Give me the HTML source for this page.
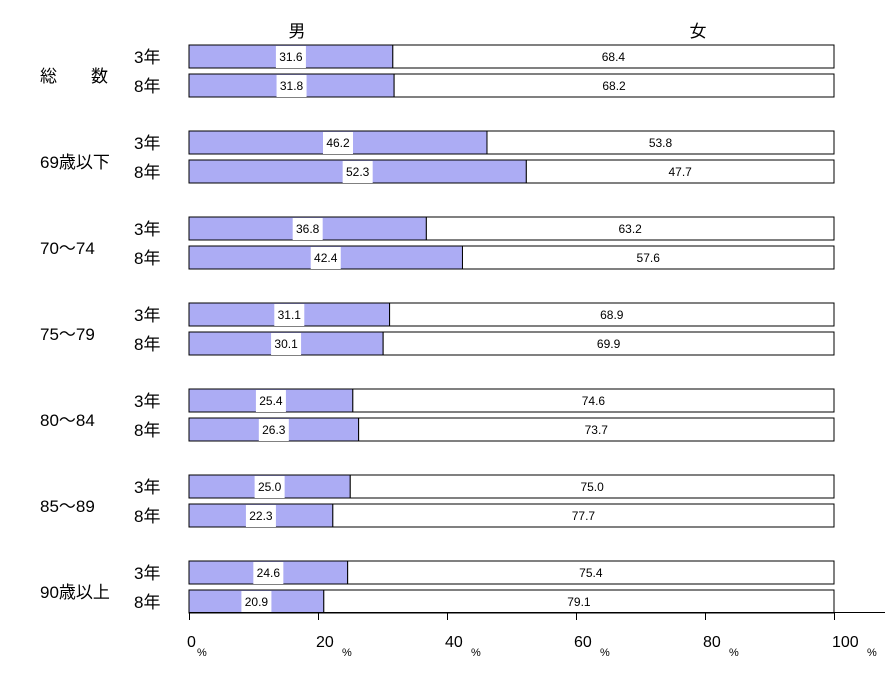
<!DOCTYPE html>
<html><head><meta charset="utf-8"><style>
body{margin:0;background:#fff;}
svg text{font-family:"Liberation Sans","Noto Sans CJK JP",sans-serif;}
</style></head><body>
<svg id="chart" width="885" height="668" xmlns="http://www.w3.org/2000/svg">
<text x="297" y="37" font-size="17" text-anchor="middle">男</text>
<text x="698" y="37" font-size="17" text-anchor="middle">女</text>
<g id="bars"></g>
<g id="axis"></g>
</svg>
<script>
const groups = ["総　　数","69歳以下","70〜74","75〜79","80〜84","85〜89","90歳以上"];
const years = ["3年","8年"];
const male = [[31.6,31.8],[46.2,52.3],[36.8,42.4],[31.1,30.1],[25.4,26.3],[25.0,22.3],[24.6,20.9]];
const female = [[68.4,68.2],[53.8,47.7],[63.2,57.6],[68.9,69.9],[74.6,73.7],[75.0,77.7],[75.4,79.1]];
const ticks = [0,20,40,60,80,100];

const NS="http://www.w3.org/2000/svg";
const x0=189,x1=834;
const xs=v=>x0+(x1-x0)*v/100;
const rowY=(g,r)=>45+86*g+29*r;
const bh=23;
const bars=document.getElementById('bars');
function mk(tag,attrs,parent,txt){const e=document.createElementNS(NS,tag);for(const k in attrs)e.setAttribute(k,attrs[k]);if(txt!==undefined)e.textContent=txt;parent.appendChild(e);return e;}

groups.forEach((g,gi)=>{
  const gl=mk('text',{x:40,y:rowY(gi,0)+bh+14,'font-size':17},bars,g);
  
  
  years.forEach((yr,ri)=>{
    const y=rowY(gi,ri);
    const yl=mk('text',{x:134,y:y+18,'font-size':17},bars,yr);
    
    
    const m=male[gi][ri], f=female[gi][ri];
    const mr=mk('rect',{x:xs(0),y:y,width:xs(m)-xs(0),height:bh,fill:'#acacf4',stroke:'#000','stroke-width':1},bars);
    
    
    const fr=mk('rect',{x:xs(m),y:y,width:xs(m+f)-xs(m),height:bh,fill:'#fff',stroke:'#000','stroke-width':1},bars);
    
    
    const mc=(xs(0)+xs(m))/2;
    mk('rect',{x:mc-15,y:y+1,width:30,height:bh-1,fill:'#fff'},bars);
    const ml=mk('text',{x:mc,y:y+16,'font-size':12,'text-anchor':'middle'},bars,m.toFixed(1));
    
    
    const fl=mk('text',{x:(xs(m)+xs(m+f))/2,y:y+16,'font-size':12,'text-anchor':'middle'},bars,f.toFixed(1));
    
    
  });
});
const ax=document.getElementById('axis');
const al=mk('line',{x1:x0,y1:612.5,x2:885,y2:612.5,stroke:'#000'},ax);


ticks.forEach(t=>{
  const tx=Math.round(xs(t))+0.5;
  mk('line',{x1:tx,y1:612,x2:tx,y2:620,stroke:'#000'},ax);
  const tl=mk('text',{x:xs(t)-2,y:647,'font-size':16},ax,String(t));
  
  
  const w=String(t).length*9;
  const pl=mk('text',{x:xs(t)-2+w+(t===0?1:8),y:656,'font-size':11},ax,'%');
  
  
});
</script>
</body></html>
